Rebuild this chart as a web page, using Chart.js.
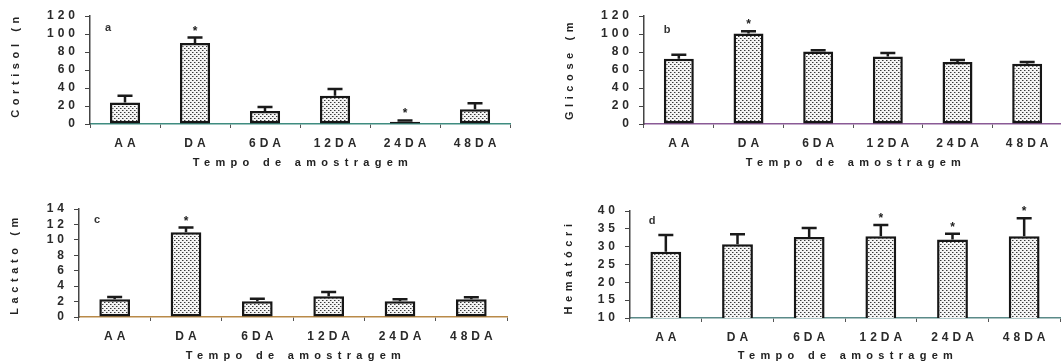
<!DOCTYPE html>
<html>
<head>
<meta charset="utf-8">
<script src="https://cdn.jsdelivr.net/npm/chart.js@4.4.1/dist/chart.umd.min.js"></script>
<style>
  html, body { margin: 0; padding: 0; background: #fff; width: 1061px; height: 363px; overflow: hidden; }
  canvas { position: absolute; }
</style>
</head>
<body>
<canvas id="panelA" width="530" height="185" style="left:0;top:0"></canvas>
<canvas id="panelB" width="540" height="185" style="left:530px;top:0"></canvas>
<canvas id="panelC" width="530" height="173" style="left:0;top:190px"></canvas>
<canvas id="panelD" width="540" height="173" style="left:530px;top:190px"></canvas>
<script>
const categories = ['AA', 'DA', '6DA', '12DA', '24DA', '48DA'];

const cortisol = [24, 90, 14.5, 31.5, 2.5, 16.5];
const cortisolErr = [7.5, 6, 4.5, 7.5, 1.5, 6.5];
const cortisolSig = [false, true, false, false, true, false];
const cortisolTicks = [0, 20, 40, 60, 80, 100, 120];

const glicose = [72.5, 100.5, 80.5, 75, 69, 67];
const glicoseErr = [4.5, 2.5, 1.5, 4, 2, 2];
const glicoseSig = [false, true, false, false, false, false];
const glicoseTicks = [0, 20, 40, 60, 80, 100, 120];

const lactato = [2.3, 11.0, 2.05, 2.7, 2.05, 2.3];
const lactatoErr = [0.3, 0.6, 0.3, 0.55, 0.25, 0.25];
const lactatoSig = [false, true, false, false, false, false];
const lactatoTicks = [0, 2, 4, 6, 8, 10, 12, 14];

const hematocrito = [28.6, 30.7, 32.7, 32.9, 32.0, 32.9];
const hematocritoErr = [4.7, 2.8, 2.5, 3.2, 1.6, 5.1];
const hematocritoSig = [false, false, false, true, true, true];
const hematocritoTicks = [10, 15, 20, 25, 30, 35, 40];

const FONT = "'Liberation Sans', Arial, sans-serif";

function dotPattern(ctx) {
  const tile = document.createElement('canvas');
  tile.width = 4; tile.height = 4;
  const g = tile.getContext('2d');
  g.fillStyle = '#f4f4f4';
  g.fillRect(0, 0, 4, 4);
  g.fillStyle = '#9a9a9a';
  g.fillRect(1, 0, 1, 1);
  g.fillRect(3, 2, 1, 1);
  g.fillStyle = '#3a3a3a';
  g.fillRect(0, 0, 1, 1);
  g.fillRect(2, 2, 1, 1);
  return ctx.createPattern(tile, 'repeat');
}

function makePanel(id, p) {
  const canvas = document.getElementById(id);
  const W = canvas.width, H = canvas.height;
  const a = p.area;

  const decor = {
    id: 'decor',
    beforeDraw(chart) {
      chart.ctx.letterSpacing = '4px';
    },
    afterDatasetsDraw(chart) {
      const ctx = chart.ctx, y = chart.scales.y;
      const bars = chart.getDatasetMeta(0).data;
      ctx.save();
      ctx.letterSpacing = '0px';
      ctx.strokeStyle = '#1a1a1a';
      ctx.fillStyle = '#222';
      ctx.lineWidth = 2.5;
      bars.forEach((bar, i) => {
        const top = y.getPixelForValue(p.values[i] + p.err[i]);
        ctx.beginPath();
        ctx.moveTo(bar.x, bar.y);
        ctx.lineTo(bar.x, top);
        ctx.moveTo(bar.x - 7.5, top);
        ctx.lineTo(bar.x + 7.5, top);
        ctx.stroke();
        if (p.sig[i]) {
          ctx.font = 'bold 12px ' + FONT;
          ctx.textAlign = 'center';
          ctx.textBaseline = 'alphabetic';
          ctx.fillText('*', bar.x, top - 3);
        }
      });
      ctx.restore();
    },
    afterDraw(chart) {
      const ctx = chart.ctx, ca = chart.chartArea;
      ctx.save();
      ctx.fillStyle = '#222';
      ctx.textAlign = 'center';
      ctx.textBaseline = 'middle';

      // x title
      ctx.font = 'bold 11px ' + FONT;
      ctx.letterSpacing = '5.3px';
      ctx.fillText('Tempo de amostragem', (ca.left + ca.right) / 2 + 3, p.xTitleY);

      // y title
      ctx.letterSpacing = '4.6px';
      ctx.save();
      ctx.translate(p.yTitleX, p.yTitleY);
      ctx.rotate(-Math.PI / 2);
      ctx.fillText(p.yTitle, 0, 0);
      ctx.restore();

      // panel letter
      ctx.letterSpacing = '0px';
      ctx.font = 'bold 11px ' + FONT;
      ctx.fillStyle = '#333';
      ctx.fillText(p.letter, p.letterX, p.letterY);
      ctx.restore();
    }
  };

  const tickFont = { family: FONT, size: 12, weight: 'bold' };

  return new Chart(canvas, {
    type: 'bar',
    data: {
      labels: categories,
      datasets: [{
        data: p.values,
        backgroundColor: dotPattern(canvas.getContext('2d')),
        borderColor: '#161616',
        borderWidth: 2.5,
        borderSkipped: false,
        barPercentage: 0.43,
        categoryPercentage: 1
      }]
    },
    options: {
      responsive: false,
      animation: false,
      devicePixelRatio: 1,
      layout: { padding: { left: 0, top: a.top, right: W - a.right, bottom: 0 } },
      plugins: {
        legend: { display: false },
        tooltip: { enabled: false }
      },
      scales: {
        x: {
          grid: { drawOnChartArea: false, tickLength: 4, color: '#555', offset: true },
          border: { color: p.axisColor, width: 1.5 },
          ticks: { font: tickFont, color: '#2a2a2a', padding: 8, maxRotation: 0, autoSkip: false, labelOffset: 2 },
          afterFit: s => { s.height = H - a.bottom; }
        },
        y: {
          min: p.ticks[0],
          max: p.ticks[p.ticks.length - 1],
          grid: { drawOnChartArea: false, tickLength: 5, color: '#444' },
          border: { color: '#444', width: 1.5 },
          ticks: { stepSize: p.ticks[1] - p.ticks[0], autoSkip: false, font: tickFont, color: '#2a2a2a', padding: 6 },
          afterFit: s => { s.width = a.left; }
        }
      }
    },
    plugins: [decor]
  });
}

makePanel('panelA', {
  values: cortisol, err: cortisolErr, sig: cortisolSig, ticks: cortisolTicks,
  yTitle: 'Cortisol (n', letter: 'a',
  area: { left: 90, right: 510, top: 16, bottom: 124 },
  axisColor: '#3f8c80', xTitleY: 163, yTitleX: 16, yTitleY: 65, letterX: 108, letterY: 28
});

makePanel('panelB', {
  values: glicose, err: glicoseErr, sig: glicoseSig, ticks: glicoseTicks,
  yTitle: 'Glicose (m', letter: 'b',
  area: { left: 114, right: 532, top: 16, bottom: 124 },
  axisColor: '#8a5a96', xTitleY: 163, yTitleX: 40, yTitleY: 69, letterX: 137, letterY: 30
});

makePanel('panelC', {
  values: lactato, err: lactatoErr, sig: lactatoSig, ticks: lactatoTicks,
  yTitle: 'Lactato (m', letter: 'c',
  area: { left: 79, right: 507, top: 19, bottom: 127 },
  axisColor: '#b98a48', xTitleY: 166, yTitleX: 15, yTitleY: 74, letterX: 97, letterY: 30
});

makePanel('panelD', {
  values: hematocrito, err: hematocritoErr, sig: hematocritoSig, ticks: hematocritoTicks,
  yTitle: 'Hematócri', letter: 'd',
  area: { left: 100, right: 530, top: 21, bottom: 128 },
  axisColor: '#5a8a88', xTitleY: 166, yTitleX: 39, yTitleY: 77, letterX: 122, letterY: 31
});
</script>
</body>
</html>
